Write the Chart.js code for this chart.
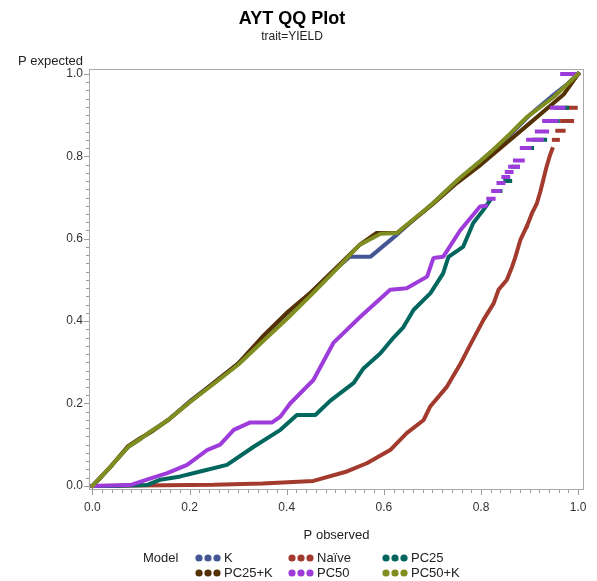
<!DOCTYPE html>
<html>
<head>
<meta charset="utf-8">
<script src="https://cdn.jsdelivr.net/npm/chart.js@4/dist/chart.umd.min.js"></script>
<style>
  html, body { margin: 0; padding: 0; background: #fff; }
  #wrap { position: relative; width: 597px; height: 581px; }
</style>
</head>
<body>
<div id="wrap"><canvas id="c"></canvas></div>
<script>
// ---- data (P observed, P expected); null = break between plotted runs ----
const modelNames = ['K', 'Naïve', 'PC25', 'PC25+K', 'PC50', 'PC50+K'];
const tickLabels = ['0.0', '0.2', '0.4', '0.6', '0.8', '1.0'];

const seriesK = [[0,0],[0.02,0.025],[0.04,0.05],[0.074,0.095],[0.1,0.115],[0.115,0.128],[0.156,0.16],[0.2,0.205],[0.25,0.25],[0.3,0.297],[0.35,0.36],[0.4,0.418],[0.45,0.468],[0.5,0.525],[0.53,0.556],[0.572,0.556],[0.627,0.61],[0.66,0.645],[0.7,0.685],[0.75,0.74],[0.8,0.79],[0.85,0.84],[0.9,0.9],[0.95,0.95],[0.977,0.975],[1,1]];

const seriesNaive = [[0,0],[0.25,0.003],[0.35,0.006],[0.455,0.012],[0.524,0.035],[0.565,0.055],[0.613,0.087],[0.647,0.128],[0.682,0.16],[0.695,0.192],[0.73,0.241],[0.757,0.295],[0.778,0.343],[0.805,0.403],[0.826,0.443],[0.836,0.476],[0.853,0.5],[0.864,0.532],[0.87,0.553],[0.881,0.597],[0.894,0.629],[0.905,0.662],[0.915,0.686],[0.922,0.714],[0.929,0.747],[0.935,0.775],[0.942,0.803],[0.948,0.822],
  null,[0.95,0.84],[0.962,0.84],null,[0.957,0.862],[0.97,0.862],null,[0.967,0.886],[0.99,0.886],null,[0.977,0.918],[0.995,0.918],null,[0.99,1],[1,1]];

const seriesPC25 = [[0,0],[0.044,0],[0.112,0.002],[0.14,0.015],[0.181,0.023],[0.222,0.035],[0.277,0.051],[0.332,0.095],[0.387,0.136],[0.421,0.172],[0.459,0.172],[0.49,0.207],[0.538,0.25],[0.558,0.285],[0.593,0.322],[0.62,0.36],[0.64,0.385],[0.661,0.427],[0.696,0.468],[0.722,0.516],[0.733,0.556],[0.763,0.58],[0.784,0.638],[0.805,0.67],[0.819,0.694],
  null,[0.828,0.716],[0.84,0.716],null,[0.85,0.74],[0.86,0.74],null,[0.866,0.775],[0.876,0.775],null,[0.89,0.82],[0.905,0.82],null,[0.91,0.84],[0.932,0.84],null,[0.935,0.886],[0.958,0.886],null,[0.955,0.918],[0.977,0.918],null,[0.975,1],[1,1]];

const seriesPC25K = [[0,0],[0.02,0.024],[0.04,0.05],[0.074,0.097],[0.1,0.117],[0.12,0.13],[0.156,0.16],[0.2,0.203],[0.25,0.25],[0.3,0.297],[0.35,0.362],[0.4,0.42],[0.45,0.47],[0.5,0.527],[0.55,0.585],[0.585,0.614],[0.627,0.614],[0.66,0.645],[0.7,0.683],[0.75,0.735],[0.8,0.78],[0.85,0.83],[0.9,0.88],[0.95,0.93],[0.97,0.95],[1,1]];

const seriesPC50 = [[0,0],[0.078,0.002],[0.112,0.015],[0.154,0.031],[0.195,0.051],[0.236,0.087],[0.263,0.1],[0.291,0.136],[0.325,0.154],[0.37,0.154],[0.387,0.168],[0.407,0.2],[0.455,0.257],[0.496,0.347],[0.551,0.41],[0.613,0.476],[0.647,0.48],[0.689,0.508],[0.702,0.553],[0.722,0.556],[0.757,0.62],[0.798,0.678],[0.81,0.68],
  null,[0.815,0.697],[0.826,0.697],null,[0.825,0.716],[0.838,0.716],null,[0.836,0.735],[0.846,0.735],null,[0.846,0.75],[0.856,0.75],null,[0.853,0.762],[0.863,0.762],null,[0.86,0.775],[0.876,0.775],null,[0.87,0.79],[0.886,0.79],null,[0.884,0.82],[0.9,0.82],null,[0.897,0.84],[0.925,0.84],null,[0.915,0.86],[0.936,0.86],null,[0.93,0.886],[0.955,0.886],null,[0.946,0.918],[0.97,0.918],null,[0.967,1],[1,1]];

const seriesPC50K = [[0,0],[0.02,0.025],[0.04,0.05],[0.074,0.095],[0.1,0.115],[0.115,0.128],[0.156,0.16],[0.2,0.203],[0.25,0.248],[0.3,0.294],[0.35,0.35],[0.4,0.405],[0.45,0.463],[0.5,0.523],[0.55,0.585],[0.593,0.612],[0.627,0.614],[0.66,0.646],[0.7,0.685],[0.757,0.748],[0.8,0.79],[0.825,0.816],[0.86,0.855],[0.895,0.896],[0.95,0.944],[1,1]];

const seriesColors = ['#445694', '#A23A2E', '#01665E', '#543005', '#9D3CDB', '#7F8E1F'];
const allSeries = [seriesK, seriesNaive, seriesPC25, seriesPC25K, seriesPC50, seriesPC50K];

function toPoints(arr) {
  return arr.map((p, i) => p ? { x: p[0], y: p[1] } : { x: arr[i - 1][0], y: null });
}

const FONT = "'Liberation Sans', Arial, sans-serif";

const datasets = allSeries.map((s, i) => ({
  label: modelNames[i],
  data: toPoints(s),
  borderColor: seriesColors[i],
  backgroundColor: seriesColors[i],
  borderWidth: 4,
  pointRadius: 0,
  pointHoverRadius: 0,
  tension: 0,
  spanGaps: false,
  borderCapStyle: 'square',
  borderJoinStyle: 'bevel',
  order: -i,
  segment: i === 1 ? { borderDash: ctx => (ctx.p0.parsed.y >= 0.6 ? [4, 2] : undefined) } : undefined
}));

const minorTicks = [];
for (let k = 0; k <= 50; k++) minorTicks.push({ value: k / 50 });

function isMajor(v) { return Math.abs(v * 5 - Math.round(v * 5)) < 1e-6; }
function labelFor(v) { return isMajor(v) ? tickLabels[Math.round(v * 5)] : ''; }

const framePlugin = {
  id: 'frame',
  afterDraw(chart) {
    const { ctx, chartArea: a, scales } = chart;
    ctx.save();
    ctx.strokeStyle = '#a9a9a9';
    ctx.lineWidth = 1;
    ctx.strokeRect(a.left + 0.5, a.top + 0.5, a.right - a.left - 1, a.bottom - a.top - 1);
    // tick marks
    ctx.strokeStyle = '#9a9a9a';
    ctx.beginPath();
    scales.x.ticks.forEach(t => {
      const px = Math.round(scales.x.getPixelForValue(t.value)) + 0.5;
      const len = isMajor(t.value) ? 5 : 3;
      ctx.moveTo(px, a.bottom); ctx.lineTo(px, a.bottom + len);
    });
    scales.y.ticks.forEach(t => {
      const py = Math.round(scales.y.getPixelForValue(t.value)) + 0.5;
      const len = isMajor(t.value) ? 5 : 3;
      ctx.moveTo(a.left, py); ctx.lineTo(a.left - len, py);
    });
    ctx.stroke();
    // y axis title (horizontal, above axis)
    ctx.fillStyle = '#222';
    ctx.font = '13px ' + FONT;
    ctx.textBaseline = 'middle';
    ctx.textAlign = 'left';
    ctx.fillText('P expected', 18, 61);
    // legend
    const rows = [558, 573];
    const colDot = [199, 292, 386];
    ctx.fillText('Model', 143, rows[0]);
    modelNames.forEach((name, i) => {
      const r = rows[Math.floor(i / 3)];
      const cx = colDot[i % 3];
      ctx.fillStyle = seriesColors[i];
      for (let d = 0; d < 3; d++) {
        ctx.beginPath();
        ctx.arc(cx + d * 9, r, 3.6, 0, Math.PI * 2);
        ctx.fill();
      }
      ctx.fillStyle = '#222';
      ctx.fillText(name, cx + 25, r);
    });
    ctx.restore();
  }
};

new Chart(document.getElementById('c'), {
  type: 'line',
  data: { datasets },
  options: {
    responsive: true,
    maintainAspectRatio: false,
    animation: false,
    events: [],
    layout: { padding: { left: 0, right: 13, top: 0, bottom: 0 } },
    plugins: {
      legend: { display: false },
      tooltip: { enabled: false },
      title: {
        display: true,
        text: 'AYT QQ Plot',
        color: '#000',
        font: { family: FONT, size: 18, weight: 'bold' },
        padding: { top: 8, bottom: 0 }
      },
      subtitle: {
        display: true,
        text: 'trait=YIELD',
        color: '#222',
        font: { family: FONT, size: 12 },
        padding: { top: 0, bottom: 25 }
      }
    },
    scales: {
      x: {
        type: 'linear',
        min: -0.007,
        max: 1.012,
        afterBuildTicks: s => { s.ticks = minorTicks.map(t => ({ value: t.value })); },
        afterFit: s => { s.height = 91; },
        grid: { display: false, drawTicks: false },
        border: { display: false },
        ticks: {
          autoSkip: false,
          maxRotation: 0,
          padding: 10,
          color: '#333',
          font: { family: FONT, size: 12 },
          callback: v => labelFor(v)
        },
        title: {
          display: true,
          text: 'P observed',
          color: '#222',
          font: { family: FONT, size: 13 },
          padding: { top: 0, bottom: 38 }
        }
      },
      y: {
        type: 'linear',
        min: -0.01,
        max: 1.012,
        afterBuildTicks: s => { s.ticks = minorTicks.map(t => ({ value: t.value })); },
        afterFit: s => { s.width = 89; },
        grid: { display: false, drawTicks: false },
        border: { display: false },
        ticks: {
          autoSkip: false,
          padding: 6,
          color: '#333',
          font: { family: FONT, size: 12 },
          callback: v => labelFor(v)
        }
      }
    }
  },
  plugins: [framePlugin]
});
</script>
</body>
</html>
